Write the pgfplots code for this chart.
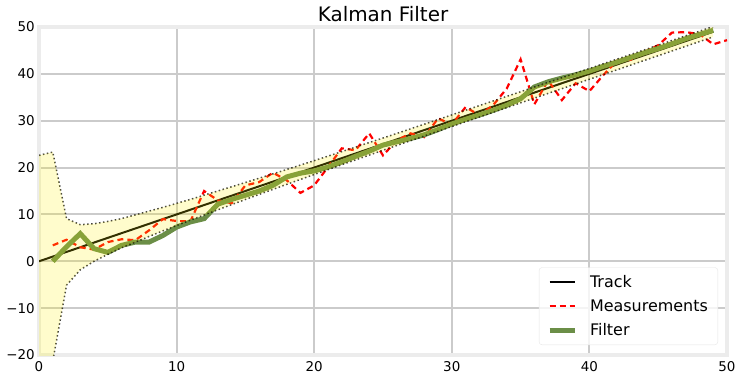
\documentclass[border=0pt]{standalone}
\usepackage{fontspec}
\setmainfont{DejaVu Sans}
\usepackage{pgfplots}
\usepackage{pgfplotstable}
\pgfplotsset{compat=1.18}
\definecolor{gridc}{RGB}{203,203,203}
\definecolor{framec}{RGB}{236,236,236}
\definecolor{filtc}{RGB}{107,142,71}

\pgfplotstableread{
x track upper lower
0 0 22.6 -22.6
1 1 23.3 -21.3
2 2 9.1 -5.1
3 3 7.8 -1.8
4 4 8.0 0.0
5 5 8.5 1.5
6 6 9.1 2.9
7 7 9.9 4.1
8 8 10.7 5.3
9 9 11.5 6.5
10 10 12.35 7.65
11 11 13.2 8.8
12 12 14.1 9.9
13 13 15.0 11.0
14 14 15.9 12.1
15 15 16.8 13.2
16 16 17.72 14.28
17 17 18.65 15.35
18 18 19.58 16.42
19 19 20.52 17.48
20 20 21.47 18.53
21 21 22.43 19.57
22 22 23.39 20.61
23 23 24.36 21.64
24 24 25.33 22.67
25 25 26.3 23.7
26 26 27.28 24.72
27 27 28.26 25.74
28 28 29.25 26.75
29 29 30.24 27.76
30 30 31.23 28.77
31 31 32.22 29.78
32 32 33.21 30.79
33 33 34.2 31.8
34 34 35.19 32.81
35 35 36.18 33.82
36 36 37.17 34.83
37 37 38.16 35.84
38 38 39.15 36.85
39 39 40.15 37.85
40 40 41.14 38.86
41 41 42.14 39.86
42 42 43.13 40.87
43 43 44.13 41.87
44 44 45.12 42.88
45 45 46.12 43.88
46 46 47.11 44.89
47 47 48.11 45.89
48 48 49.1 46.9
49 49 50.1 47.9
}\trackdata

\pgfplotstableread{
x z
1 3.4
2 4.6
3 3.0
4 2.5
5 4.1
6 4.7
7 4.5
8 6.6
9 9.0
10 8.6
11 8.5
12 15.0
13 13.0
14 12.4
15 16.2
16 16.9
17 18.9
18 17.3
19 14.6
20 16.2
21 20.1
22 24.1
23 23.7
24 27.3
25 22.6
26 25.8
27 27.3
28 26.5
29 30.5
30 29.2
31 32.9
32 31.2
33 33.3
34 36.9
35 43.1
36 33.5
37 38.6
38 34.4
39 38.0
40 36.3
41 39.7
42 42.8
43 43.0
44 44.7
45 46.1
46 48.8
47 48.9
48 48.5
49 46.3
50 47.2
}\measdata

\pgfplotstableread{
x f
1 0.0
2 3.1
3 5.9
4 2.7
5 1.9
6 3.4
7 4.1
8 4.1
9 5.5
10 7.3
11 8.4
12 9.1
13 12.2
14 13.2
15 14.1
16 15.0
17 16.2
18 18.0
19 18.8
20 19.3
21 20.1
22 21.2
23 22.4
24 23.5
25 24.8
26 25.5
27 26.2
28 27.0
29 28.1
30 29.3
31 30.3
32 31.2
33 32.2
34 33.3
35 34.7
36 37.2
37 38.3
38 39.1
39 39.8
40 40.6
41 41.6
42 42.5
43 43.5
44 44.5
45 45.4
46 46.4
47 47.5
48 48.4
49 49.3
}\filtdata

% band outline: upper edge forward, lower edge backward
\pgfplotstableread{
x y
0 22.6
1 23.3
2 9.1
3 7.8
4 8.0
5 8.5
6 9.1
7 9.9
8 10.7
9 11.5
10 12.35
11 13.2
12 14.1
13 15.0
14 15.9
15 16.8
16 17.72
17 18.65
18 19.58
19 20.52
20 21.47
21 22.43
22 23.39
23 24.36
24 25.33
25 26.3
26 27.28
27 28.26
28 29.25
29 30.24
30 31.23
31 32.22
32 33.21
33 34.2
34 35.19
35 36.18
36 37.17
37 38.16
38 39.15
39 40.15
40 41.14
41 42.14
42 43.13
43 44.13
44 45.12
45 46.12
46 47.11
47 48.11
48 49.1
49 50.1
49 47.9
48 46.9
47 45.89
46 44.89
45 43.88
44 42.88
43 41.87
42 40.87
41 39.86
40 38.86
39 37.85
38 36.85
37 35.84
36 34.83
35 33.82
34 32.81
33 31.8
32 30.79
31 29.78
30 28.77
29 27.76
28 26.75
27 25.74
26 24.72
25 23.7
24 22.67
23 21.64
22 20.61
21 19.57
20 18.53
19 17.48
18 16.42
17 15.35
16 14.28
15 13.2
14 12.1
13 11.0
12 9.9
11 8.8
10 7.65
9 6.5
8 5.3
7 4.1
6 2.9
5 1.5
4 0.0
3 -1.8
2 -5.1
1 -21.3
0 -22.6
}\banddata

\begin{document}
\begin{tikzpicture}
\begin{axis}[
  at={(0,0)}, anchor=south west,
  scale only axis, width=688bp, height=328bp,
  xmin=0, xmax=50, ymin=-20, ymax=50,
  xtick={0,10,20,30,40,50}, ytick={-20,-10,0,10,20,30,40,50},
  xticklabels={0,10,20,30,40,50},
  yticklabels={−20,−10,0,10,20,30,40,50},
  grid=major, major grid style={gridc, line width=2bp},
  axis line style={framec, line width=3.5bp},
  major tick length=0pt,
  tick label style={font=\fontsize{13.5}{15}\selectfont, text=black},
  xticklabel style={anchor=north, inner sep=0pt, yshift=-6bp},
  yticklabel style={anchor=east, inner sep=0pt, xshift=-4bp},
  title={Kalman Filter},
  title style={at={(0.5,1)}, anchor=base, yshift=0bp, inner sep=0pt, font=\fontsize{20}{24}\selectfont},
  legend cell align=left,
  legend image code/.code={\draw[#1] (0bp,0bp) -- (25bp,0bp);},
  legend style={at={(1,0)}, anchor=south east, xshift=-9bp, yshift=10bp,
    draw=black!10, rounded corners=3bp, fill=white, fill opacity=0.8, text opacity=1,
    font=\fontsize{16}{19}\selectfont, inner xsep=8bp, inner ysep=5.5bp,
    row sep=7bp, /tikz/every odd column/.append style={column sep=11bp}},
]
\addplot[black, line width=2bp] table[x=x, y=track] {\trackdata};
\addlegendentry{Track}
\addplot[red, line width=2.2bp, dash pattern=on 6bp off 4bp] table[x=x, y=z] {\measdata};
\addlegendentry{Measurements}
\addplot[filtc, line width=5bp] table[x=x, y=f] {\filtdata};
\addlegendentry{Filter}
\addplot[forget plot, black, opacity=0.75, line width=1.5bp, dash pattern=on 1.5bp off 2.5bp] table[x=x, y=upper] {\trackdata};
\addplot[forget plot, black, opacity=0.75, line width=1.5bp, dash pattern=on 1.5bp off 2.5bp] table[x=x, y=lower] {\trackdata};
\addplot[forget plot, draw=none, fill=yellow, fill opacity=0.2] table[x=x, y=y] {\banddata};
\end{axis}
\useasboundingbox (-39bp,-26bp) rectangle (703bp,355bp);
\end{tikzpicture}
\end{document}
